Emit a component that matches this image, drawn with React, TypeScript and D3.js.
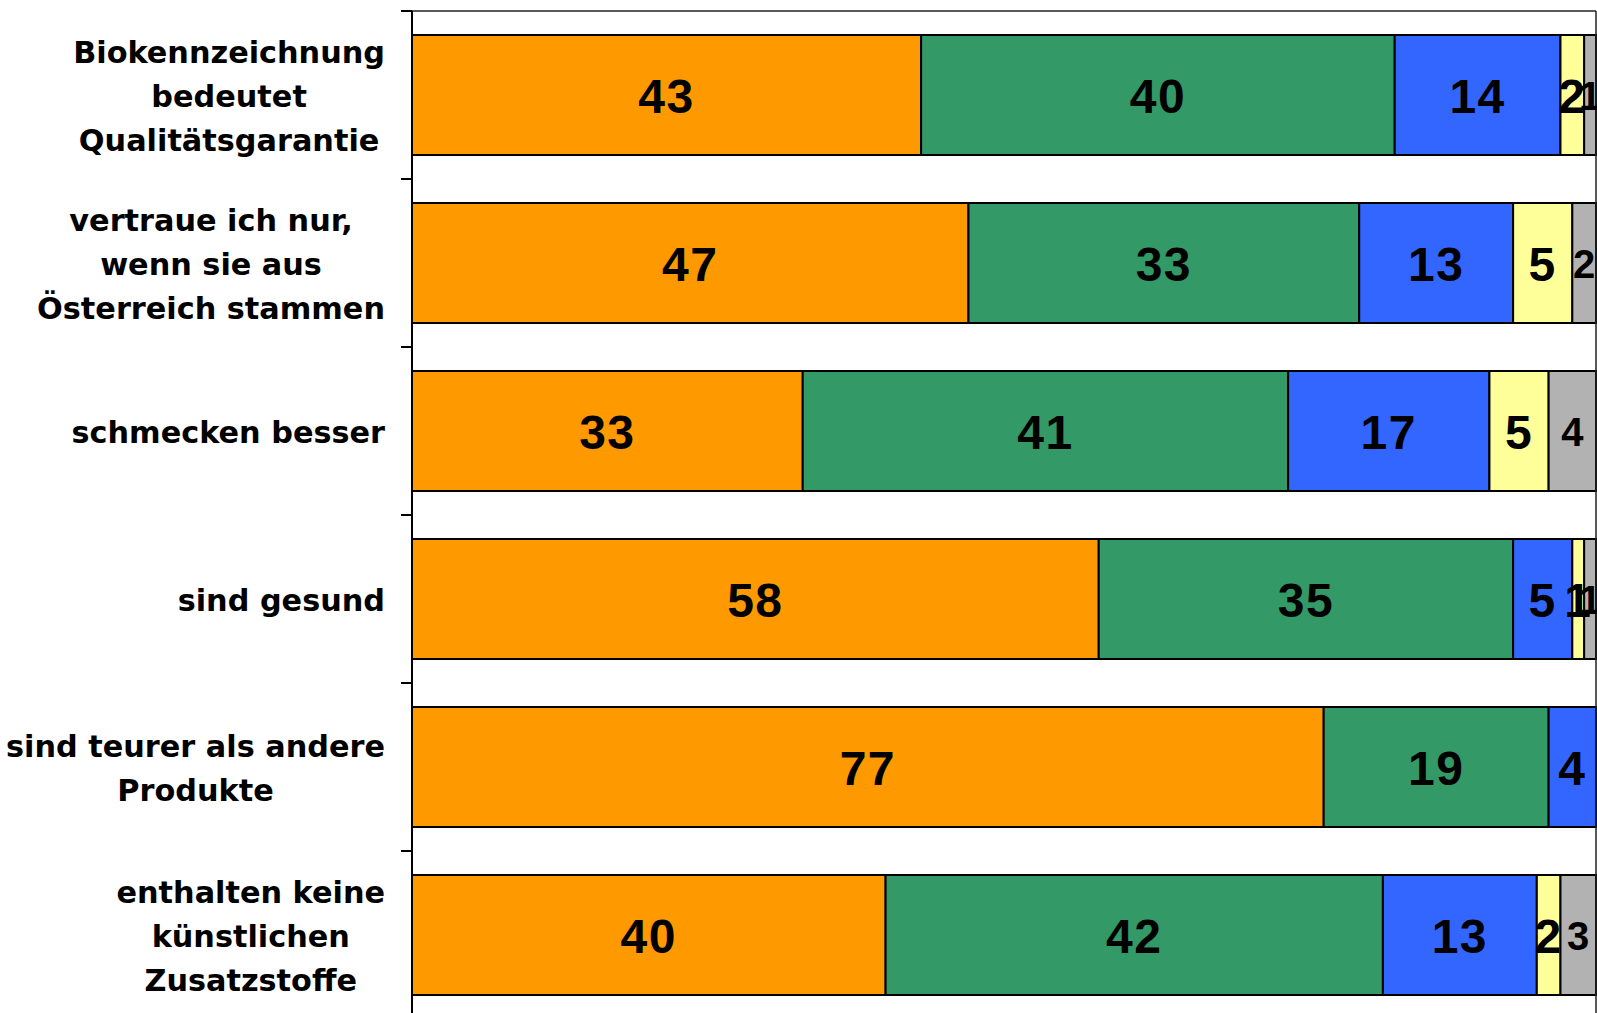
import React, { useEffect, useRef } from "react";
import * as d3 from "d3";

const categoryLines: string[][] = [
  ["Biokennzeichnung", "bedeutet", "Qualitätsgarantie"],
  ["vertraue ich nur,", "wenn sie aus", "Österreich stammen"],
  ["schmecken besser"],
  ["sind gesund"],
  ["sind teurer als andere", "Produkte"],
  ["enthalten keine", "künstlichen", "Zusatzstoffe"],
];
const categories = categoryLines.map((l) => l.join(" "));

const seriesKeys = ["s1", "s2", "s3", "s4", "s5"];
const s1 = [43, 47, 33, 58, 77, 40];
const s2 = [40, 33, 41, 35, 19, 42];
const s3 = [14, 13, 17, 5, 4, 13];
const s4 = [2, 5, 5, 1, 0, 2];
const s5 = [1, 2, 4, 1, 0, 3];
const seriesValues = [s1, s2, s3, s4, s5];
const colors = ["#FF9900", "#339966", "#3366FF", "#FFFF99", "#B2B2B2"];
const xTicks = [0, 100];

const W = 1597;
const H = 1013;

export default function App() {
  const ref = useRef<SVGSVGElement | null>(null);

  useEffect(() => {
    const svg = d3.select(ref.current);
    svg.selectAll("*").remove();

    const left = 412;
    const right = 1596;
    const top = 11;
    const bottom = 1019;

    const x = d3.scaleLinear().domain([xTicks[0], xTicks[1]]).range([left, right]);
    const y = d3
      .scaleBand<string>()
      .domain(categories)
      .range([top, bottom])
      .paddingInner(48 / 168)
      .paddingOuter(24 / 168);

    const rows = categories.map((c, i) => {
      const r: any = { cat: c };
      seriesKeys.forEach((k, j) => (r[k] = seriesValues[j][i]));
      return r;
    });
    const stacked = d3.stack<any>().keys(seriesKeys)(rows);

    const g = svg.append("g");

    stacked.forEach((layer, si) => {
      layer.forEach((d) => {
        const v = d[1] - d[0];
        if (v <= 0) return;
        g.append("rect")
          .attr("x", x(d[0]))
          .attr("y", y(d.data.cat)!)
          .attr("width", x(d[1]) - x(d[0]))
          .attr("height", y.bandwidth())
          .attr("fill", colors[si])
          .attr("stroke", "#000")
          .attr("stroke-width", 2);
      });
    });

    // frame lines
    g.append("line")
      .attr("x1", left - 11)
      .attr("x2", right)
      .attr("y1", top)
      .attr("y2", top)
      .attr("stroke", "#222")
      .attr("stroke-width", 1.5);
    g.append("line")
      .attr("x1", right)
      .attr("x2", right)
      .attr("y1", top)
      .attr("y2", bottom)
      .attr("stroke", "#222")
      .attr("stroke-width", 1.5);
    g.append("line")
      .attr("x1", left)
      .attr("x2", left)
      .attr("y1", top)
      .attr("y2", bottom)
      .attr("stroke", "#000")
      .attr("stroke-width", 2);
    const step = y.step();
    for (let i = 0; i <= categories.length; i++) {
      const ty = top + i * step;
      g.append("line")
        .attr("x1", left - 11)
        .attr("x2", left)
        .attr("y1", ty)
        .attr("y2", ty)
        .attr("stroke", "#000")
        .attr("stroke-width", 2);
    }

    // value labels
    stacked.forEach((layer, si) => {
      layer.forEach((d) => {
        const v = d[1] - d[0];
        if (v <= 0) return;
        const cx = (x(d[0]) + x(d[1])) / 2;
        const cy = y(d.data.cat)! + y.bandwidth() / 2 + 1;
        g.append("text")
          .attr("x", cx)
          .attr("y", cy)
          .attr("dy", "0.36em")
          .attr("text-anchor", "middle")
          .attr("font-family", "'Liberation Sans', Arial, sans-serif")
          .attr("font-weight", "bold")
          .attr("font-size", si === 4 ? 40 : 48)
          .attr("letter-spacing", si === 4 ? 0 : 1.5)
          .attr("fill", "#000")
          .text(String(v));
      });
    });

    // category labels
    const blockRight = 385;
    const lineH = 44;
    categoryLines.forEach((lines, i) => {
      const cy = y(categories[i])! + y.bandwidth() / 2 + 1;
      const texts = lines.map((ln, li) =>
        g
          .append("text")
          .attr("y", cy + (li - (lines.length - 1) / 2) * lineH)
          .attr("dy", "0.36em")
          .attr("text-anchor", "middle")
          .attr("font-family", "'DejaVu Sans', Verdana, sans-serif")
          .attr("font-weight", "bold")
          .attr("font-size", 30.3)
          .attr("fill", "#000")
          .text(ln)
      );
      const maxW = d3.max(texts, (t) => (t.node() as SVGTextElement).getComputedTextLength()) || 0;
      texts.forEach((t) => t.attr("x", blockRight - maxW / 2));
    });
  }, []);

  return (
    <svg
      ref={ref}
      width={W}
      height={H}
      style={{ position: "fixed", left: 0, top: 0, background: "#fff", overflow: "hidden" }}
    />
  );
}
